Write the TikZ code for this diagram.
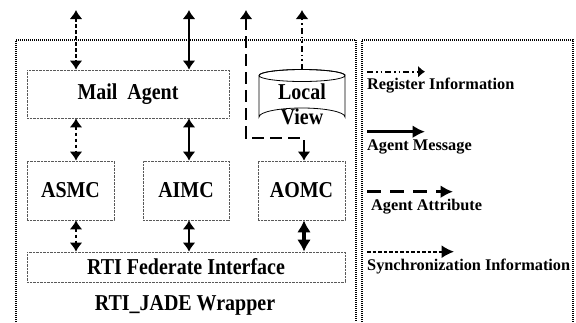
\documentclass[tikz,border=0pt]{standalone}
\usepackage{fontspec}
\setmainfont{Liberation Serif}
\newfontfamily\narrowserif[FakeStretch=0.88]{Liberation Serif}
\usetikzlibrary{arrows.meta}
\tikzset{
  big/.style={font=\narrowserif\bfseries\fontsize{22.7}{25}\selectfont},
  small/.style={font=\bfseries\fontsize{16.3}{19}\selectfont},
  unit/.style={big, draw=black!65, dash pattern=on 0.8pt off 0.6pt, line width=0.8pt, inner sep=0pt},
  frame/.style={line width=1.2pt, dash pattern=on 1pt off 1pt},
  tip/.style={-{Latex[length=9pt,width=13pt]}},
  tips/.style={{Latex[length=9pt,width=13pt]}-{Latex[length=9pt,width=13pt]}},
  ltip/.style={-{Latex[length=12.5pt,width=13pt]}},
  sync/.style={line width=2pt, dash pattern=on 3.5pt off 2.5pt},
  reginfo/.style={line width=1.6pt, dash pattern=on 6pt off 3pt on 1.5pt off 3pt on 1.5pt off 3pt},
  msg/.style={line width=2.2pt},
  attrib/.style={line width=2.2pt, dash pattern=on 12pt off 6pt},
}
\begin{document}
\begin{tikzpicture}[x=1pt,y=-1pt]
\useasboundingbox (0,0) rectangle (576,322);

% wrapper and legend frames (open at the bottom)
\draw[frame] (16,322) -- (16,40) -- (356,40) -- (356,322);
\draw[frame] (362,322) -- (362,40) -- (573,40) -- (573,322);

% components
\node[unit, minimum width=202pt, minimum height=48pt] (ma) at (128,94) {Mail\ \ Agent};
\node[unit, minimum width=87pt, minimum height=59pt] (asmc) at (70.5,190.5) {ASMC};
\node[unit, minimum width=86pt, minimum height=59pt] (aimc) at (186,190.5) {AIMC};
\node[unit, minimum width=87pt, minimum height=59pt] (aomc) at (301.5,190.5) {AOMC};
\node[unit, minimum width=318pt, minimum height=30pt] (rti) at (186,267) {RTI Federate Interface};
\node[big] (wrap) at (185,305) {RTI\_JADE Wrapper};

% local view store
\draw[line width=0.8pt] (259,75.5) -- (259,117) arc[start angle=180, end angle=360, x radius=43, y radius=9]
  -- (345,75.5) arc[start angle=0, end angle=360, x radius=43, y radius=6];
\draw[line width=0.8pt] (259,75.5) arc[start angle=180, end angle=360, x radius=43, y radius=6];
\coordinate (lvtop) at (302,69.5);
\node[big, align=center, inner sep=0pt] (lv) at (302,104) {Local\\View};

% column positions
\coordinate (x1) at (76,0);
\coordinate (x2) at (189,0);
\coordinate (x3) at (304,0);
\coordinate (t1) at (76,10);
\coordinate (t2) at (189,10);
\coordinate (t3) at (246,10);
\coordinate (t4) at (302,10);
\coordinate (bend) at (246,138);

% connectors
\draw[sync, tips] (t1) -- (ma.north -| x1);
\draw[msg, tips] (t2) -- (ma.north -| x2);
\draw[sync, tips] (ma.south -| x1) -- (asmc.north -| x1);
\draw[msg, tips] (ma.south -| x2) -- (aimc.north -| x2);
\draw[reginfo, tip] (lvtop) -- (t4);
\draw[attrib, tips] (t3) -- (bend) -| (aomc.north -| x3);
\draw[sync, tips] (asmc.south -| x1) -- (rti.north -| x1);
\draw[msg, tips] (aimc.south -| x2) -- (rti.north -| x2);
\draw[line width=3.2pt, {Latex[length=12pt,width=14pt]}-{Latex[length=12pt,width=14pt]}] (aomc.south -| x3) -- (rti.north -| x3);

% legend
\coordinate (r0) at (367,71.7);  \coordinate (r1) at (425,71.7);
\coordinate (m0) at (367,131.7); \coordinate (m1) at (425,131.7);
\coordinate (a0) at (367,191.7); \coordinate (a1) at (453,191.7);
\coordinate (s0) at (367,251.7); \coordinate (s1) at (454,251.7);
\draw[reginfo, line width=1.6pt, -{Latex[length=7pt,width=12pt]}] (r0) -- (r1);
\draw[msg, line width=2.5pt, ltip] (m0) -- (m1);
\draw[attrib, line width=2.5pt, dash pattern=on 14pt off 9pt, ltip] (a0) -- (a1);
\draw[sync, line width=1.6pt, dash pattern=on 3.5pt off 2pt, ltip] (s0) -- (s1);
\node[small, anchor=base west, inner sep=0pt] (lr) at (367,89.3) {Register Information};
\node[small, anchor=base west, inner sep=0pt] (lm) at (367,150.5) {Agent Message};
\node[small, anchor=base west, inner sep=0pt] (la) at (371,210.5) {Agent Attribute};
\node[small, anchor=base west, inner sep=0pt] (ls) at (367,270) {Synchronization Information};
\end{tikzpicture}
\end{document}
